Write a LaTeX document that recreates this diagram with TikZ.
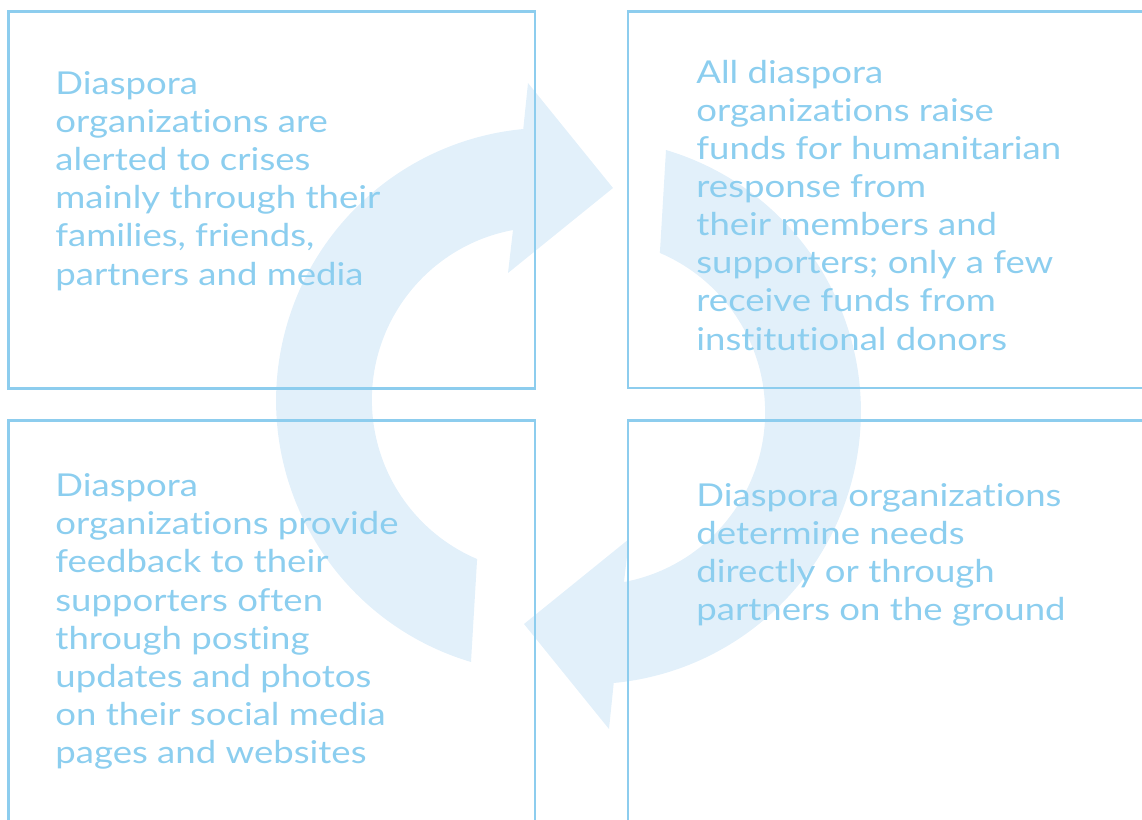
\documentclass[tikz,border=0pt]{standalone}
\usepackage{fontspec}
\setmainfont[FakeStretch=1.16,Ligatures=NoCommon]{Lato}
\usetikzlibrary{calc}

\definecolor{boxblue}{HTML}{8DCDEE}
\definecolor{textblue}{HTML}{8CCEEF}
\definecolor{arrowblue}{HTML}{E2F0FA}

\begin{document}
\begin{tikzpicture}[x=0.5pt,y=-0.5pt,
		box/.style={draw=boxblue,line width=1.4pt},
		blurb/.style={anchor=base west,inner sep=0pt,align=left,text=textblue,
			font=\fontsize{15.75pt}{19.05pt}\selectfont},
		cyclearrow/.style={fill=arrowblue,draw=none}]
	\useasboundingbox (0,0) rectangle (1142,820);
	\clip (0,0) rectangle (1142,820);

	% the two arrows of the cycle, the second one turned half round
	\coordinate (mid) at (568.5,406);
	\foreach \turn in {0,180} {
		\begin{scope}[rotate around={\turn:(mid)}]
			\fill[cyclearrow] (471,662) arc[start angle=106.6,end angle=264.6,radius=272.8]
				-- (528,83) -- (613,188) -- (508,273) -- (513,230)
				arc[start angle=259.4,end angle=113.05,radius=172.9] -- cycle;
		\end{scope}
	}

	% frames
	\draw[box] (8.5,11.5) rectangle (535,388.5);
	\draw[box] (628,11.5) rectangle (1160,388);
	\draw[box] (8.5,420.5) rectangle (535,840);
	\draw[box] (628,420.5) rectangle (1160,840);

	% texts, placed by the baseline of their last line
	\node[blurb] (alert) at (55,285) {Diaspora\\organizations are\\alerted to crises\\mainly through their\\families, friends,\\partners and media};
	\node[blurb] (funds) at (696,350) {All diaspora\\organizations raise\\funds for humanitarian\\response from\\their members and\\supporters; only a few\\receive funds from\\institutional donors};
	\node[blurb] (feedback) at (55,763.4) {Diaspora\\organizations provide\\feedback to their\\supporters often\\through posting\\updates and photos\\on their social media\\pages and websites};
	\node[blurb] (needs) at (696,620.3) {Diaspora organizations\\determine needs\\directly or through\\partners on the ground};
\end{tikzpicture}
\end{document}
